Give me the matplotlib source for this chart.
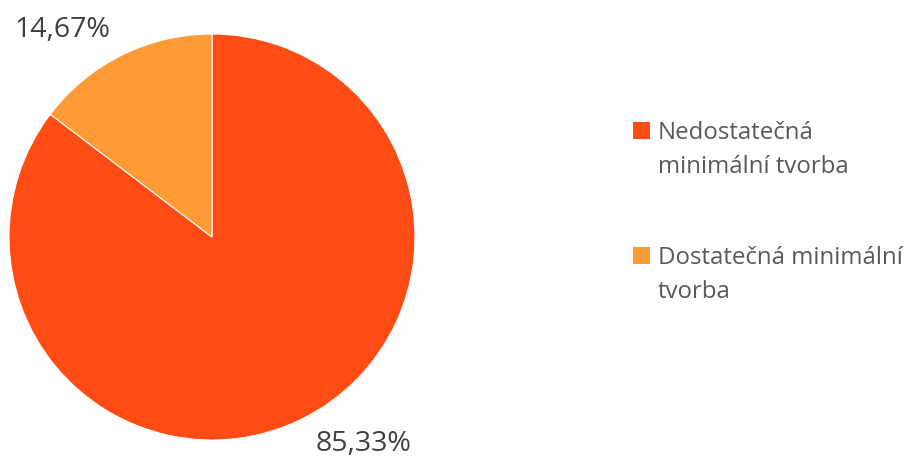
import matplotlib
matplotlib.use("Agg")
import matplotlib.pyplot as plt
from matplotlib.patches import Rectangle
import numpy as np

categories = ["Nedostatečná\nminimální tvorba", "Dostatečná minimální\ntvorba"]
values = [85.33, 14.67]
colors = ["#FF4B14", "#FF9B35"]

W, H = 922, 463
fig = plt.figure(figsize=(W / 100, H / 100), dpi=100)
plt.rcParams['font.family'] = ['Open Sans', 'DejaVu Sans']

cx, cy, R = 212, 237, 203
ax = fig.add_axes([(cx - R) / W, (H - cy - R) / H, 2 * R / W, 2 * R / H])
wedges, _ = ax.pie(values, colors=colors, startangle=90, counterclock=False,
                   radius=1.0, wedgeprops=dict(edgecolor="white", linewidth=0.8))
ax.set_xlim(-1, 1)
ax.set_ylim(-1, 1)
ax.set_aspect("equal")
ax.axis("off")

# data labels, outside end
for w, v in zip(wedges, values):
    ang = np.deg2rad((w.theta1 + w.theta2) / 2)
    x, y = np.cos(ang), np.sin(ang)
    ha = "left" if x > 0 else "right"
    va = "top" if y < 0 else "bottom"
    xr, yr = 1.06 * x, 1.06 * y
    ax.text(xr + (0.04 if x > 0 else -0.03), yr, f"{v:.2f}".replace(".", ",") + "%",
            ha=ha, va=va, fontsize=20.5, color="#404040", clip_on=False)

# legend
sq = 17
tx = 658
base_y = [139, 264]
line_gap = 34
for lab, col, by in zip(categories, colors, base_y):
    fig.patches.append(Rectangle((633 / W, (H - by) / H), sq / W, sq / H,
                                 transform=fig.transFigure, facecolor=col, edgecolor="none"))
    for i, line in enumerate(lab.split("\n")):
        fig.text(tx / W, (H - by - i * line_gap) / H, line, ha="left", va="baseline",
                 fontsize=17.3, color="#595959")

fig.savefig("out.png", dpi=100)
